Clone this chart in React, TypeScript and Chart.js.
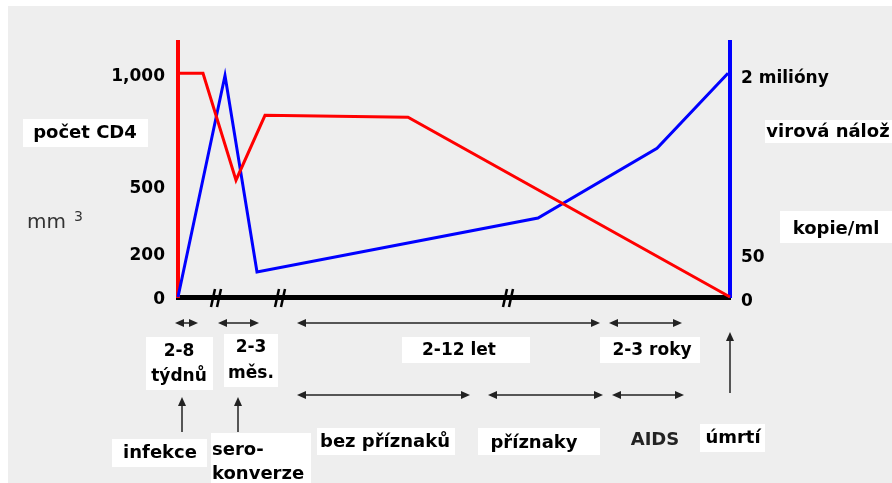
import React, { useEffect, useRef } from "react";
import { Chart, registerables } from "chart.js";

Chart.register(...registerables);

// Timeline positions along the horizontal axis (0 = infection, 552 = death)
const cd4Time = [0, 25, 58, 87, 230, 552];
const cd4Values = [1000, 1000, 522, 812, 804, 0];
const viralTime = [0, 47, 79, 360, 479, 550];
const viralValues = [0, 990, 112, 353, 665, 1000];

const leftTicks = [0, 200, 500, 1000];
const leftTickLabels = ["0", "200", "500", "1,000"];
const rightTicks = [0, 200, 1000];
const rightTickLabels = ["0", "50", "2 milióny"];

// Axis break marks ("//") in timeline units
const axisBreaks = [39, 103, 331];

// Phase arrows in timeline units: [start, end]
const phaseArrowsTop = [[-3, 20], [40, 81], [119, 422], [431, 504]];
const phaseArrowsBottom = [[119, 292], [310, 425], [434, 506]];
// Event arrows (upward) in timeline units
const eventArrows = [4, 60, 552];

const FONT = "'DejaVu Sans', 'Liberation Sans', sans-serif";

type Label = {
  lines: string[];
  x: number;
  ys: number[];
  box?: [number, number, number, number];
  size: number;
  align?: CanvasTextAlign;
  color?: string;
  weight?: string;
};

const labels: Label[] = [
  { lines: ["počet CD4"], x: 85, ys: [133], box: [23, 119, 125, 28], size: 18 },
  { lines: ["virová nálož"], x: 828, ys: [132], box: [765, 120, 127, 23], size: 18 },
  { lines: ["kopie/ml"], x: 836, ys: [229], box: [780, 211, 112, 32], size: 18 },
  { lines: ["2-8", "týdnů"], x: 179, ys: [352, 377], box: [146, 337, 67, 53], size: 17 },
  { lines: ["2-3", "měs."], x: 251, ys: [348, 374], box: [224, 334, 54, 53], size: 17 },
  { lines: ["2-12 let"], x: 459, ys: [351], box: [402, 337, 128, 26], size: 17 },
  { lines: ["2-3 roky"], x: 652, ys: [351], box: [600, 337, 100, 26], size: 17 },
  { lines: ["infekce"], x: 160, ys: [453], box: [112, 439, 95, 28], size: 18 },
  { lines: ["sero-", "konverze"], x: 212, ys: [450, 474], box: [211, 433, 100, 50], size: 18, align: "left" },
  { lines: ["bez příznaků"], x: 385, ys: [442], box: [317, 428, 138, 27], size: 18 },
  { lines: ["příznaky"], x: 534, ys: [443], box: [478, 428, 122, 27], size: 18 },
  { lines: ["AIDS"], x: 655, ys: [440], size: 18, color: "#222" },
  { lines: ["úmrtí"], x: 733, ys: [438], box: [700, 424, 65, 28], size: 18 },
];

function drawArrowHead(ctx: CanvasRenderingContext2D, x: number, y: number, dx: number, dy: number) {
  const len = 9;
  const half = 4;
  const px = -dy;
  const py = dx;
  ctx.beginPath();
  ctx.moveTo(x, y);
  ctx.lineTo(x - dx * len + px * half, y - dy * len + py * half);
  ctx.lineTo(x - dx * len - px * half, y - dy * len - py * half);
  ctx.closePath();
  ctx.fill();
}

const decorPlugin = {
  id: "decor",
  beforeDraw(chart: any) {
    const ctx: CanvasRenderingContext2D = chart.ctx;
    ctx.save();
    ctx.fillStyle = "#ffffff";
    ctx.fillRect(0, 0, chart.width, chart.height);
    ctx.fillStyle = "#eeeeee";
    ctx.fillRect(8, 6, chart.width - 8, chart.height - 6);
    ctx.restore();
  },
  afterDraw(chart: any) {
    const ctx: CanvasRenderingContext2D = chart.ctx;
    const xs = chart.scales.x;
    const base = chart.chartArea.bottom;
    ctx.save();

    // axis breaks
    ctx.strokeStyle = "#000";
    ctx.lineWidth = 2.5;
    axisBreaks.forEach((v) => {
      const px = xs.getPixelForValue(v);
      [-3, 3].forEach((o) => {
        ctx.beginPath();
        ctx.moveTo(px + o - 3, base + 10);
        ctx.lineTo(px + o + 1, base - 8);
        ctx.stroke();
      });
    });

    // phase arrows
    ctx.strokeStyle = "#222";
    ctx.fillStyle = "#222";
    ctx.lineWidth = 1.5;
    const drawRow = (rows: number[][], y: number) => {
      rows.forEach(([a, b]) => {
        const x1 = xs.getPixelForValue(a);
        const x2 = xs.getPixelForValue(b);
        ctx.beginPath();
        ctx.moveTo(x1 + 4, y);
        ctx.lineTo(x2 - 4, y);
        ctx.stroke();
        drawArrowHead(ctx, x1, y, -1, 0);
        drawArrowHead(ctx, x2, y, 1, 0);
      });
    };
    drawRow(phaseArrowsTop, base + 26);
    drawRow(phaseArrowsBottom, base + 98);

    // event arrows
    eventArrows.forEach((v, i) => {
      const px = xs.getPixelForValue(v);
      const yTip = i < 2 ? base + 100 : base + 35;
      const yEnd = i < 2 ? base + 135 : base + 96;
      ctx.beginPath();
      ctx.moveTo(px, yEnd);
      ctx.lineTo(px, yTip + 5);
      ctx.stroke();
      drawArrowHead(ctx, px, yTip, 0, -1);
    });

    // "mm 3"
    ctx.fillStyle = "#333";
    ctx.textBaseline = "middle";
    ctx.textAlign = "left";
    ctx.font = `20px ${FONT}`;
    ctx.fillText("mm", 27, 223);
    ctx.font = `14px ${FONT}`;
    ctx.fillText("3", 74, 217);

    // labels
    labels.forEach((l) => {
      if (l.box) {
        ctx.fillStyle = "#ffffff";
        ctx.fillRect(l.box[0], l.box[1], l.box[2], l.box[3]);
      }
      ctx.fillStyle = l.color || "#000";
      ctx.font = `${l.weight || "bold"} ${l.size}px ${FONT}`;
      ctx.textAlign = l.align || "center";
      ctx.textBaseline = "middle";
      l.lines.forEach((t, i) => ctx.fillText(t, l.x, l.ys[i]));
    });

    ctx.restore();
  },
};

export default function App() {
  const ref = useRef<HTMLCanvasElement | null>(null);

  useEffect(() => {
    if (!ref.current) return;
    const tickFont = { family: FONT, size: 17, weight: "bold" as const };
    const chart = new Chart(ref.current, {
      type: "line",
      data: {
        datasets: [
          {
            label: "počet CD4",
            data: cd4Time.map((t, i) => ({ x: t, y: cd4Values[i] })),
            borderColor: "#ff0000",
            borderWidth: 3,
            pointRadius: 0,
            tension: 0,
            yAxisID: "y",
            clip: false as any,
          },
          {
            label: "virová nálož",
            data: viralTime.map((t, i) => ({ x: t, y: viralValues[i] })),
            borderColor: "#0000ff",
            borderWidth: 3,
            pointRadius: 0,
            tension: 0,
            yAxisID: "y1",
            clip: false as any,
          },
        ],
      },
      options: {
        responsive: false,
        animation: false,
        layout: { padding: { top: 42, left: 0, right: 0, bottom: 0 } },
        plugins: { legend: { display: false }, tooltip: { enabled: false } },
        scales: {
          x: {
            type: "linear",
            min: 0,
            max: 552,
            grid: { display: false, drawTicks: false },
            ticks: { display: false },
            border: { display: true, color: "#000", width: 5 },
            afterFit: (s: any) => {
              s.height = 186;
            },
          },
          y: {
            type: "linear",
            position: "left",
            min: 0,
            max: 1140,
            grid: { display: false, drawTicks: false },
            border: { display: true, color: "#ff0000", width: 4 },
            ticks: {
              padding: 13,
              labelOffset: 3,
              color: "#000",
              font: tickFont,
              callback: (v: any) => leftTickLabels[leftTicks.indexOf(Number(v))],
            },
            afterBuildTicks: (s: any) => {
              s.ticks = leftTicks.map((v) => ({ value: v }));
            },
            afterFit: (s: any) => {
              s.width = 178;
            },
          },
          y1: {
            type: "linear",
            position: "right",
            min: 0,
            max: 1140,
            grid: { display: false, drawTicks: false },
            border: { display: true, color: "#0000ff", width: 4 },
            ticks: {
              padding: 11,
              labelOffset: 5,
              color: "#000",
              font: tickFont,
              callback: (v: any) => rightTickLabels[rightTicks.indexOf(Number(v))],
            },
            afterBuildTicks: (s: any) => {
              s.ticks = rightTicks.map((v) => ({ value: v }));
            },
            afterFit: (s: any) => {
              s.width = 162;
            },
          },
        },
      },
      plugins: [decorPlugin],
    });
    return () => chart.destroy();
  }, []);

  return (
    <div style={{ position: "absolute", left: 0, top: 0, width: 892, height: 483 }}>
      <canvas ref={ref} width={892} height={483} style={{ display: "block" }} />
    </div>
  );
}
